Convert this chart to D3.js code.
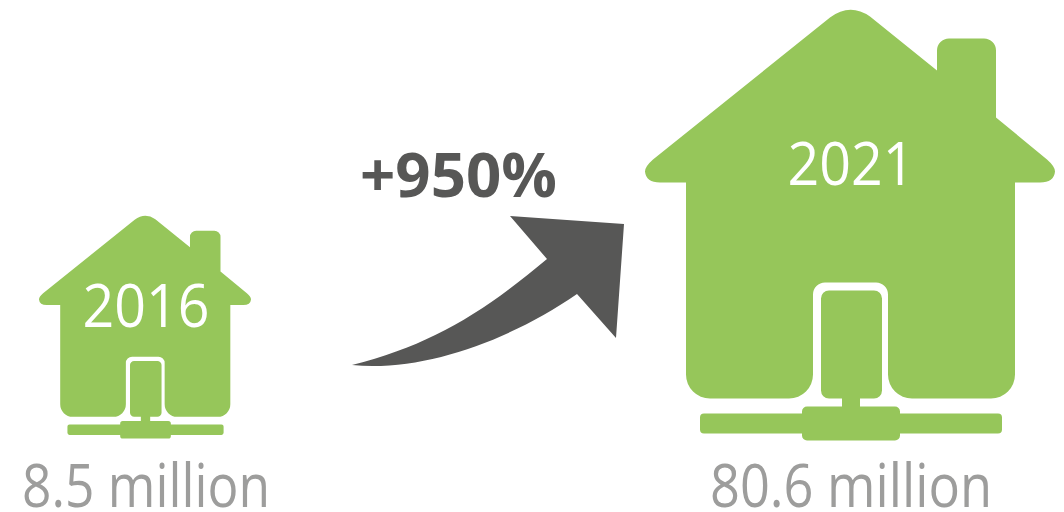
<!DOCTYPE html>
<html>
<head>
<meta charset="utf-8">
<script src="https://cdn.jsdelivr.net/npm/d3@7"></script>
<style>
  html, body { margin: 0; padding: 0; background: #fff; }
  svg { display: block; }
  text { font-family: "Open Sans", "Noto Sans", sans-serif; }
</style>
</head>
<body>
<div class="svg-container"></div>
<script>
var years = ['2016', '2021'];
var values = [8.5, 80.6];
var valueLabels = ['8.5 million', '80.6 million'];
var changeLabel = '+950%';

var width = 1064;
var height = 512;
var green = '#96c65a';
var dark = '#575756';
var grey = '#9d9d9c';

var svg = d3.select('.svg-container')
    .append('svg')
    .attr('width', width)
    .attr('height', height);

var x = d3.scalePoint().domain(years).range([145, 850]);

// house width, its ground line and the height of its year label follow the value
var houseWidth = d3.scaleLinear().domain(d3.extent(values)).range([212, 410]);
var baseY = d3.scaleLinear().domain(d3.extent(values)).range([438.5, 440.5]);
var yearY = d3.scaleLinear().domain(d3.extent(values)).range([327, 185]);

// house glyph, drawn at 410 wide, origin = middle of the bottom edge
function housePath() {
  var p = d3.path();
  // roof and walls
  p.moveTo(-20, -423);
  p.quadraticCurveTo(0, -438, 20, -424);
  p.lineTo(87, -370);
  p.lineTo(87, -390);
  p.arcTo(87, -402, 99, -402, 12);
  p.lineTo(134, -402);
  p.arcTo(146, -402, 146, -390, 12);
  p.lineTo(146, -323);
  p.lineTo(197, -281);
  p.quadraticCurveTo(205, -274, 205, -269);
  p.quadraticCurveTo(204, -258, 190, -258);
  p.lineTo(165, -258);
  p.lineTo(165, -62);
  p.arcTo(165, -42, 140, -42, 24);
  p.lineTo(62, -42);
  p.arcTo(38, -42, 38, -66, 24);
  p.lineTo(38, -146);
  p.arcTo(38, -158, 26, -158, 12);
  p.lineTo(-25, -158);
  p.arcTo(-37, -158, -37, -146, 12);
  p.lineTo(-37, -66);
  p.arcTo(-37, -42, -61, -42, 24);
  p.lineTo(-140, -42);
  p.arcTo(-164, -42, -164, -62, 24);
  p.lineTo(-164, -258);
  p.lineTo(-190, -258);
  p.quadraticCurveTo(-204, -258, -205, -269);
  p.quadraticCurveTo(-205, -274, -197, -281);
  p.closePath();
  // door, stem, hub and ground bar
  p.moveTo(-29, -142);
  p.arcTo(-29, -150, -21, -150, 8);
  p.lineTo(24, -150);
  p.arcTo(32, -150, 32, -142, 8);
  p.lineTo(32, -50);
  p.arcTo(32, -42, 24, -42, 8);
  p.lineTo(10, -42);
  p.lineTo(10, -34);
  p.lineTo(45, -34);
  p.arcTo(50, -34, 50, -29, 5);
  p.lineTo(50, -27);
  p.lineTo(148, -27);
  p.arcTo(152, -27, 152, -23, 4);
  p.lineTo(152, -11);
  p.arcTo(152, -7, 148, -7, 4);
  p.lineTo(50, -7);
  p.lineTo(50, -5);
  p.arcTo(50, 0, 45, 0, 5);
  p.lineTo(-43, 0);
  p.arcTo(-48, 0, -48, -5, 5);
  p.lineTo(-48, -7);
  p.lineTo(-146, -7);
  p.arcTo(-150, -7, -150, -11, 4);
  p.lineTo(-150, -23);
  p.arcTo(-150, -27, -146, -27, 4);
  p.lineTo(-48, -27);
  p.lineTo(-48, -29);
  p.arcTo(-48, -34, -43, -34, 5);
  p.lineTo(-8, -34);
  p.lineTo(-8, -42);
  p.lineTo(-21, -42);
  p.arcTo(-29, -42, -29, -50, 8);
  p.closePath();
  return p.toString();
}

var rows = years.map(function(year, i) {
  return {year: year, value: values[i], label: valueLabels[i]};
});

var houses = svg.selectAll('g.house')
    .data(rows)
    .enter().append('g')
    .attr('class', 'house');

houses.append('path')
    .attr('d', housePath())
    .attr('fill', green)
    .attr('transform', function(d) {
      return 'translate(' + x(d.year) + ',' + baseY(d.value) + ') scale(' + houseWidth(d.value) / 410 + ')';
    });

houses.append('text')
    .attr('x', function(d) { return x(d.year) + 1; })
    .attr('y', function(d) { return yearY(d.value); })
    .attr('text-anchor', 'middle')
    .attr('fill', '#fff')
    .attr('font-size', 61)
    .attr('font-weight', 400)
    .attr('textLength', 127)
    .attr('lengthAdjust', 'spacingAndGlyphs')
    .text(function(d) { return d.year; });

houses.append('text')
    .attr('x', function(d) { return x(d.year) + 1; })
    .attr('y', 507)
    .attr('text-anchor', 'middle')
    .attr('fill', grey)
    .attr('font-size', 61)
    .attr('textLength', function(d) { return d.value > 10 ? 282 : 248; })
    .attr('lengthAdjust', 'spacingAndGlyphs')
    .text(function(d) { return d.label; });

// change arrow
var arrow = d3.path();
arrow.moveTo(352, 365);
arrow.bezierCurveTo(430, 345, 480, 315, 547, 259);
arrow.lineTo(510, 216);
arrow.lineTo(624, 224);
arrow.lineTo(616, 338);
arrow.lineTo(577, 294);
arrow.bezierCurveTo(510, 340, 425, 372, 352, 365);
arrow.closePath();

svg.append('path')
    .attr('d', arrow.toString())
    .attr('fill', dark);

svg.append('text')
    .attr('x', 360)
    .attr('y', 197)
    .attr('fill', dark)
    .attr('font-size', 61)
    .attr('font-weight', 700)
    .attr('textLength', 197)
    .attr('lengthAdjust', 'spacingAndGlyphs')
    .text(changeLabel);
</script>
</body>
</html>
